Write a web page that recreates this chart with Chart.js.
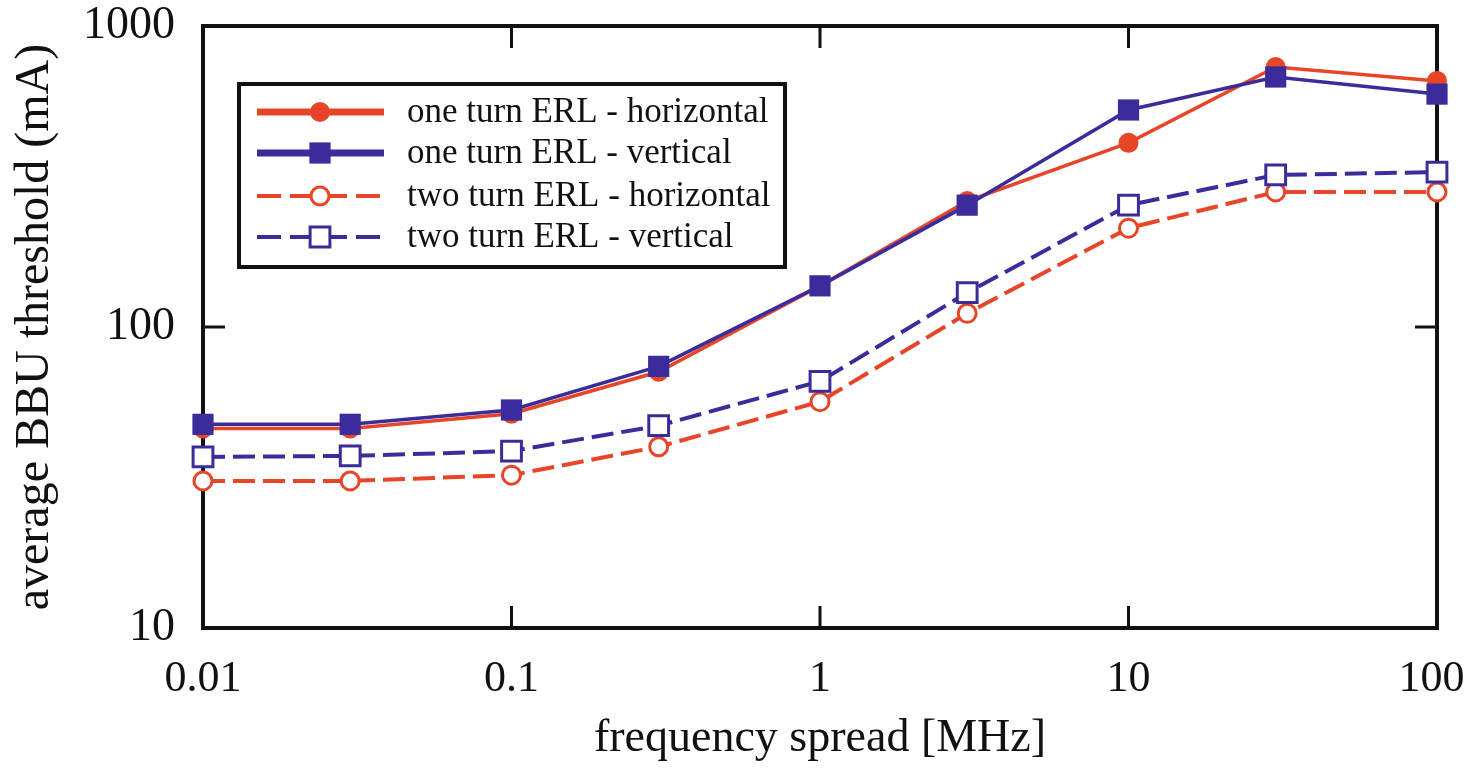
<!DOCTYPE html>
<html>
<head>
<meta charset="utf-8">
<script src="https://cdn.jsdelivr.net/npm/chart.js@4.4.1/dist/chart.umd.min.js"></script>
<style>
  html, body { margin: 0; padding: 0; background: #fff; }
  #wrap { width: 1465px; height: 770px; position: relative; }
</style>
</head>
<body>
<div id="wrap"><canvas id="c"></canvas></div>
<script>
// --- data ---
const freq = [0.01, 0.03, 0.1, 0.3, 1, 3, 10, 30, 100];           // MHz
const oneTurnH = [46, 46, 51.5, 71, 137, 262, 409, 731, 657];      // mA
const oneTurnV = [47.5, 47.5, 53, 74, 137, 254, 526, 677, 594];
const twoTurnH = [30.8, 30.8, 32.2, 40, 56.5, 111, 213, 281, 281];
const twoTurnV = [37, 37.3, 38.7, 47, 66, 130, 254, 320, 327];

const xTicks = [0.01, 0.1, 1, 10, 100];
const yTicks = [10, 100, 1000];
const seriesNames = [
  'one turn ERL - horizontal',
  'one turn ERL - vertical',
  'two turn ERL - horizontal',
  'two turn ERL - vertical'
];

const RED = 'rgb(232,69,40)';
const BLUE = 'rgb(58,45,155)';
const SERIF = '"Liberation Serif", "DejaVu Serif", serif';

const pts = arr => freq.map((f, i) => ({ x: f, y: arr[i] }));

// marker / line style per series (same order as seriesNames)
const styles = [
  { color: RED,  fill: RED,    shape: 'circle', r: 10, bw: 0, dash: [],     lw: 3.5, legendLw: 7 },
  { color: BLUE, fill: BLUE,   shape: 'rect',   r: 15, bw: 0, dash: [],     lw: 3.5, legendLw: 7 },
  { color: RED,  fill: '#fff', shape: 'circle', r: 9,  bw: 3, dash: [22, 8], lw: 4,  legendLw: 4 },
  { color: BLUE, fill: '#fff', shape: 'rect',   r: 14, bw: 3, dash: [22, 8], lw: 4,  legendLw: 4 }
];
const seriesData = [oneTurnH, oneTurnV, twoTurnH, twoTurnV];
const drawOrder = [1, 0, 3, 2]; // lower = drawn on top

// labels hanging past the plot edges should not shrink the plot
function noOverhang(s) {
  s.paddingTop = 0; s.paddingBottom = 0; s.paddingLeft = 0; s.paddingRight = 0;
}

// --- frame with inward ticks on all four sides ---
const framePlugin = {
  id: 'frame',
  beforeDatasetsDraw(chart) {
    const { ctx, chartArea: a, scales } = chart;
    ctx.save();
    ctx.strokeStyle = '#111';
    ctx.lineWidth = 3;
    const tl = 22;
    xTicks.forEach(v => {
      const px = scales.x.getPixelForValue(v);
      ctx.beginPath();
      ctx.moveTo(px, a.bottom); ctx.lineTo(px, a.bottom - tl);
      ctx.moveTo(px, a.top); ctx.lineTo(px, a.top + tl);
      ctx.stroke();
    });
    yTicks.forEach(v => {
      const py = scales.y.getPixelForValue(v);
      ctx.beginPath();
      ctx.moveTo(a.left, py); ctx.lineTo(a.left + tl, py);
      ctx.moveTo(a.right, py); ctx.lineTo(a.right - tl, py);
      ctx.stroke();
    });
    ctx.lineWidth = 4;
    ctx.strokeRect(a.left, a.top, a.right - a.left, a.bottom - a.top);
    ctx.restore();
  }
};

// --- boxed legend with line + marker samples ---
const legendPlugin = {
  id: 'boxLegend',
  afterDatasetsDraw(chart) {
    const ctx = chart.ctx;
    const bx = 239, by = 84, bw = 546, bh = 183;
    const rowY = [112, 153, 196, 237];
    ctx.save();
    ctx.fillStyle = '#fff';
    ctx.fillRect(bx, by, bw, bh);
    ctx.strokeStyle = '#111';
    ctx.lineWidth = 4;
    ctx.strokeRect(bx, by, bw, bh);
    styles.forEach((s, i) => {
      const y = rowY[i];
      ctx.strokeStyle = s.color;
      ctx.lineWidth = s.legendLw;
      ctx.setLineDash(s.dash.length ? [24, 9] : []);
      ctx.beginPath();
      ctx.moveTo(257, y); ctx.lineTo(384, y);
      ctx.stroke();
      ctx.setLineDash([]);
      ctx.fillStyle = s.fill;
      ctx.lineWidth = s.bw;
      Chart.helpers.drawPoint(ctx, { pointStyle: s.shape, radius: s.r, rotation: 0, borderWidth: s.bw }, 320, y);
      ctx.fillStyle = '#111';
      ctx.font = '35px ' + SERIF;
      ctx.textBaseline = 'middle';
      ctx.textAlign = 'left';
      ctx.fillText(seriesNames[i], 407, y + 1);
    });
    ctx.restore();
  }
};

const datasets = seriesData.map((arr, i) => {
  const s = styles[i];
  return {
    label: seriesNames[i],
    data: pts(arr),
    order: drawOrder[i],
    borderColor: s.color,
    borderWidth: s.lw,
    borderDash: s.dash,
    backgroundColor: s.fill,
    pointStyle: s.shape,
    pointRadius: s.r,
    pointBackgroundColor: s.fill,
    pointBorderColor: s.color,
    pointBorderWidth: s.bw,
    tension: 0,
    clip: false
  };
});

new Chart(document.getElementById('c'), {
  type: 'line',
  data: { datasets },
  options: {
    responsive: true,
    maintainAspectRatio: false,
    animation: false,
    layout: { padding: { top: 26, right: 28, left: 0, bottom: 0 } },
    plugins: { legend: { display: false }, tooltip: { enabled: false } },
    scales: {
      x: {
        type: 'logarithmic',
        min: 0.01, max: 100,
        afterBuildTicks: s => { s.ticks = xTicks.map(v => ({ value: v })); },
        afterFit: s => { s.height = 142; noOverhang(s); },
        grid: { display: false, drawTicks: false },
        border: { display: false },
        ticks: {
          autoSkip: false, maxRotation: 0, padding: 25,
          color: '#111', font: { family: SERIF, size: 44 },
          // last label sits at the page edge, nudge it in with a trailing space
          callback: v => v === 100 ? '100\u2005' : String(v)
        },
        title: {
          display: true, text: 'frequency spread [MHz]', color: '#111',
          font: { family: SERIF, size: 46 }, padding: { top: 0, bottom: 3 }
        }
      },
      y: {
        type: 'logarithmic',
        min: 10, max: 1000,
        afterBuildTicks: s => { s.ticks = yTicks.map(v => ({ value: v })); },
        afterFit: s => { s.width = 203; noOverhang(s); },
        grid: { display: false, drawTicks: false },
        border: { display: false },
        ticks: {
          autoSkip: false, padding: 28,
          color: '#111', font: { family: SERIF, size: 46 },
          callback: v => String(v)
        },
        title: {
          display: true, text: 'average BBU threshold (mA)', color: '#111',
          font: { family: SERIF, size: 48 }, padding: { top: 7, bottom: 0 }
        }
      }
    }
  },
  plugins: [framePlugin, legendPlugin]
});
</script>
</body>
</html>
